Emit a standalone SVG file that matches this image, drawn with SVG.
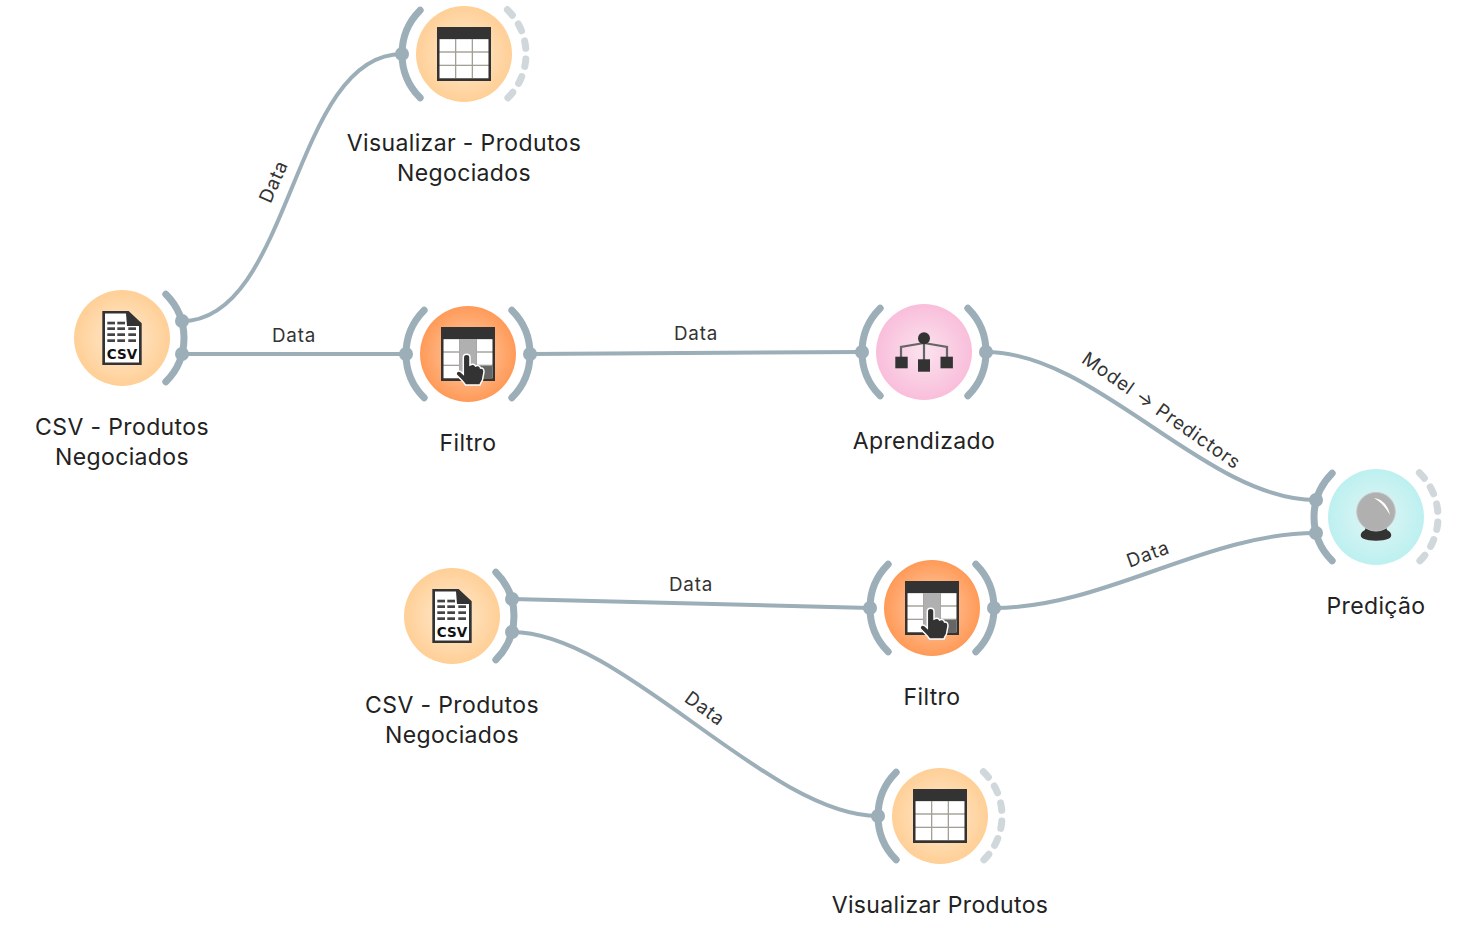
<svg xmlns="http://www.w3.org/2000/svg" width="1464" height="936" viewBox="0 0 1464 936">
<style>
.lbl{font-family:"Inter","Liberation Sans",sans-serif;font-size:23px;letter-spacing:.37px;fill:#222;text-anchor:middle}
.elbl{font-family:"Inter","Liberation Sans",sans-serif;font-size:18.800px;letter-spacing:.8px;fill:#333;text-anchor:middle}
.link{fill:none;stroke:#9CAEB8;stroke-width:4}
.arc{fill:none;stroke:#9CAEB8;stroke-width:7;stroke-linecap:round}
.dash{fill:none;stroke:#D0D8DB;stroke-width:7;stroke-linecap:round;stroke-dasharray:7.500 10.560}
.dot{fill:#9CAEB8}
.dk{fill:#333}
</style>
<defs>
<radialGradient id="gY"><stop offset="0" stop-color="#FFEBD2"/><stop offset="1" stop-color="#FFCF96"/></radialGradient>
<radialGradient id="gO"><stop offset="0" stop-color="#FFCFAC"/><stop offset="1" stop-color="#FF9A58"/></radialGradient>
<radialGradient id="gP"><stop offset="0" stop-color="#FBE3EE"/><stop offset="1" stop-color="#F9BEDB"/></radialGradient>
<radialGradient id="gC"><stop offset="0" stop-color="#E2F5F5"/><stop offset="1" stop-color="#BDF0F0"/></radialGradient>
<path id="arcL" class="arc" d="M-43.840-43.840A62 62 0 0 0-43.840 43.840"/>
<path id="arcR" class="arc" d="M43.840-43.840A62 62 0 0 1 43.840 43.840"/>
<path id="arcD" class="dash" d="M43.400-44.300A62 62 0 0 1 43.400 44.300"/>
<g id="table">
<rect x="-27" y="-27" width="54" height="54" class="dk"/>
<rect x="-24.500" y="-15" width="49" height="39.500" fill="#A39E96"/>
<g fill="#fff">
<rect x="-24.300" y="-14.700" width="15.300" height="12"/><rect x="-7.700" y="-14.700" width="15.400" height="12"/><rect x="9" y="-14.700" width="15.300" height="12"/>
<rect x="-24.300" y="-1.300" width="15.300" height="12"/><rect x="-7.700" y="-1.300" width="15.400" height="12"/><rect x="9" y="-1.300" width="15.300" height="12"/>
<rect x="-24.300" y="12" width="15.300" height="12"/><rect x="-7.700" y="12" width="15.400" height="12"/><rect x="9" y="12" width="15.300" height="12"/>
</g>
</g>
<g id="filter">
<use href="#table"/>
<rect x="-8.500" y="-15" width="17" height="39.500" fill="#B0B0B0"/>
<rect x="9" y="12" width="15.500" height="12.500" fill="#666"/>
<path d="M-4.700 3.500C-4.700-0.800 2-0.800 2 3.500V11C4.500 9.500 6.500 10 7.500 12C10 11 12 12 12.500 14C15 13.500 16 15.500 16 18L14.500 26C13.500 28 12.500 29.500 12 31H-2.500C-3.500 29-6 26.500-8 24.500L-11.500 21C-13 18.500-10 16-7.500 17.500L-4.700 20Z" fill="#333" stroke="#fff" stroke-width="1.500"/>
</g>
<g id="csv">
<path d="M-19.700-27H6.600L19.700-14.700V27H-19.700Z" class="dk"/>
<path d="M-17-24.500H4L5-12H17V24.500H-17Z" fill="#fff"/>
<g fill="#444">
<rect x="-14.700" y="-16.300" width="7.700" height="2.700"/><rect x="-4.700" y="-16.300" width="7.700" height="2.700"/>
<rect x="-14.700" y="-10.700" width="7.700" height="2.700"/><rect x="-4.700" y="-10.700" width="7.700" height="2.700"/><rect x="6.300" y="-10.700" width="7.700" height="2.700"/>
<rect x="-14.700" y="-4.700" width="7.700" height="2.700"/><rect x="-4.700" y="-4.700" width="7.700" height="2.700"/><rect x="6.300" y="-4.700" width="7.700" height="2.700"/>
<rect x="-14.700" y="1.300" width="7.700" height="2.700"/><rect x="-4.700" y="1.300" width="7.700" height="2.700"/><rect x="6.300" y="1.300" width="7.700" height="2.700"/>
</g>
<text x="0" y="20.500" text-anchor="middle" font-family="DejaVu Sans,sans-serif" font-weight="700" font-size="13.500" fill="#111">CSV</text>
</g>
</defs>

<g id="connectors">
<path class="link" d="M182 321C292 321 292 54 402 54"/>
<path class="link" d="M182 354H406"/>
<path class="link" d="M530 354L862 352"/>
<path class="link" d="M986 352C1096 352 1206 500 1316 500"/>
<path class="link" d="M994 608C1104 608 1206 533 1316 533"/>
<path class="link" d="M512 599L870 608"/>
<path class="link" d="M512 632C622 632 768 816 878 816"/>
<text class="elbl" transform="translate(273.500 181.500) rotate(-66)" y="6.500">Data</text>
<text class="elbl" x="294" y="341.500">Data</text>
<text class="elbl" x="696" y="340">Data</text>
<text class="elbl" transform="translate(1161.500 410.500) rotate(35)" y="6.500">Model → Predictors</text>
<text class="elbl" transform="translate(1148 554) rotate(-20)" y="6.500">Data</text>
<text class="elbl" x="691" y="591">Data</text>
<text class="elbl" transform="translate(705 708.500) rotate(36)" y="6.500">Data</text>
</g>

<g id="node-csv1" transform="translate(122 338)">
<circle r="48" fill="url(#gY)"/><use href="#csv"/><use href="#arcR"/>
<circle class="dot" cx="60" cy="-17" r="7"/><circle class="dot" cx="60" cy="16" r="7"/>
<text class="lbl" y="97">CSV - Produtos</text><text class="lbl" y="127">Negociados</text>
</g>
<g id="node-table1" transform="translate(464 54)">
<circle r="48" fill="url(#gY)"/><use href="#table"/><use href="#arcL"/><use href="#arcD"/>
<circle class="dot" cx="-62" r="7"/>
<text class="lbl" y="97">Visualizar - Produtos</text><text class="lbl" y="127">Negociados</text>
</g>
<g id="node-filter1" transform="translate(468 354)">
<circle r="48" fill="url(#gO)"/><use href="#filter"/><use href="#arcL"/><use href="#arcR"/>
<circle class="dot" cx="-62" r="7"/><circle class="dot" cx="62" r="7"/>
<text class="lbl" y="97">Filtro</text>
</g>
<g id="node-learner" transform="translate(924 352)">
<circle r="48" fill="url(#gP)"/>
<path d="M0-14V12M-23 5V-5L0-9L23-5V5" fill="none" stroke="#666" stroke-width="2.200"/>
<circle cy="-13.700" r="6" class="dk"/>
<rect x="-28.700" y="4.700" width="12.400" height="11.600" class="dk"/><rect x="-6" y="7.300" width="12" height="12.400" class="dk"/><rect x="16.500" y="4.700" width="12.400" height="11.600" class="dk"/>
<use href="#arcL"/><use href="#arcR"/>
<circle class="dot" cx="-62" r="7"/><circle class="dot" cx="62" r="7"/>
<text class="lbl" y="97">Aprendizado</text>
</g>
<g id="node-predict" transform="translate(1376 517)">
<circle r="48" fill="url(#gC)"/>
<path d="M-10 9H10L11 13C16 15 16.500 20 13 21.500C6 24.500-6 24.500-13 21.500C-16.500 20-16 15-11 13Z" class="dk"/>
<circle cy="-5.300" r="19.300" fill="#B0B0B0" stroke="#C8C8C8" stroke-width="1"/>
<path d="M-2-19C6-18 12-12 14-2C10-9 5-15-2-19Z" fill="#fff"/>
<use href="#arcL"/><use href="#arcD"/>
<circle class="dot" cx="-60" cy="-17" r="7"/><circle class="dot" cx="-60" cy="16" r="7"/>
<text class="lbl" y="97">Predição</text>
</g>
<g id="node-csv2" transform="translate(452 616)">
<circle r="48" fill="url(#gY)"/><use href="#csv"/><use href="#arcR"/>
<circle class="dot" cx="60" cy="-17" r="7"/><circle class="dot" cx="60" cy="16" r="7"/>
<text class="lbl" y="97">CSV - Produtos</text><text class="lbl" y="127">Negociados</text>
</g>
<g id="node-filter2" transform="translate(932 608)">
<circle r="48" fill="url(#gO)"/><use href="#filter"/><use href="#arcL"/><use href="#arcR"/>
<circle class="dot" cx="-62" r="7"/><circle class="dot" cx="62" r="7"/>
<text class="lbl" y="97">Filtro</text>
</g>
<g id="node-table2" transform="translate(940 816)">
<circle r="48" fill="url(#gY)"/><use href="#table"/><use href="#arcL"/><use href="#arcD"/>
<circle class="dot" cx="-62" r="7"/>
<text class="lbl" y="97">Visualizar Produtos</text>
</g>
</svg>
